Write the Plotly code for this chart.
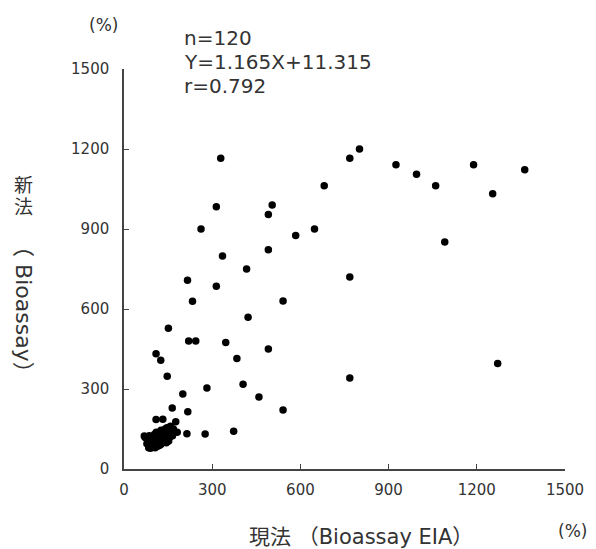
import plotly.graph_objects as go

# Discrete (clearly separated) points: current method (x) vs new method (y), in %
x_main = [925, 995, 1060, 1189, 1363, 1254, 1091, 1271, 329, 768, 801, 681, 314, 504,
          491, 262, 584, 648, 335, 491, 417, 314, 768, 541, 422, 220, 244, 346, 491, 384,
          282, 405, 459, 541, 768, 276, 373, 216, 233, 151, 109, 125, 147, 200, 164, 217,
          109, 132, 176, 181, 214, 69]
y_main = [1141, 1105, 1062, 1141, 1122, 1032, 851, 396, 1165, 1165, 1200, 1062, 983, 990,
          954, 900, 876, 900, 799, 822, 750, 685, 720, 630, 569, 480, 480, 474, 450, 414,
          304, 318, 270, 221, 341, 131, 142, 708, 629, 528, 432, 408, 348, 281, 229, 215,
          186, 187, 177, 138, 132, 124]

# Dense cluster near the origin (estimated)
x_cluster = [72, 78, 80, 84, 86, 88, 90, 92, 94, 95, 96, 98, 100, 100, 102, 104, 105, 106,
             108, 110, 110, 112, 114, 115, 116, 118, 120, 120, 122, 124, 125, 126, 128, 130,
             130, 132, 134, 135, 136, 138, 140, 140, 142, 144, 145, 146, 148, 150, 150, 152,
             155, 156, 158, 160, 162, 165, 168, 170, 90, 98, 104, 112, 118, 124, 128, 134,
             142, 150]
y_cluster = [118, 95, 108, 80, 125, 100, 78, 112, 88, 105, 82, 120, 95, 110, 84, 130, 100, 80,
             115, 92, 138, 105, 85, 122, 96, 110, 88, 132, 100, 118, 92, 145, 108, 98,
             125, 115, 140, 105, 130, 120, 150, 110, 135, 98, 125, 155, 115, 140, 130, 105,
             150, 120, 160, 135, 145, 125, 150, 140, 95, 100, 92, 118, 125, 105, 135, 120,
             145, 112]

x_vals = x_main + x_cluster
y_vals = y_main + y_cluster

tick_vals = [0, 300, 600, 900, 1200, 1500]
tick_text = ["0", "300", "600", "900", "1200", "1500"]

stats_lines = ["n=120", "Y=1.165X+11.315", "r=0.792"]

FONT = "DejaVu Sans, Noto Sans CJK JP, sans-serif"
TXT = "#333333"

# page offset of the figure (body margin of the html page)
OFF = 8
W, H = 596 - OFF, 549 - OFF
ML, MR, MT, MB = 124 - OFF, 27, 69 - OFF, 80

fig = go.Figure()
fig.add_trace(go.Scatter(
    x=x_vals, y=y_vals, mode="markers",
    marker=dict(color="black", size=7.5, line=dict(width=0)),
    cliponaxis=False, showlegend=False,
))

axis_common = dict(
    range=[0, 1500], tickvals=tick_vals, ticktext=tick_text,
    ticks="inside", ticklen=5, tickwidth=1.2, tickcolor="#444",
    showline=True, linecolor="#444", linewidth=1.5,
    showgrid=False, zeroline=False,
    tickfont=dict(family=FONT, size=15, color=TXT),
)

fig.update_layout(
    width=W, height=H,
    margin=dict(l=ML, r=MR, t=MT, b=MB),
    paper_bgcolor="white", plot_bgcolor="white",
    xaxis=dict(**axis_common, ticklabelstandoff=6),
    yaxis=dict(**axis_common, ticklabelstandoff=10),
)

# annotation positions given in page pixels, converted to paper coordinates
plot_left, plot_right, plot_top, plot_bottom = 124, 569, 69, 469
pw = plot_right - plot_left
ph = plot_bottom - plot_top


def px2paper(px, py):
    return (px - plot_left) / pw, (plot_bottom - py) / ph


annots = [
    dict(text="(%)", x=103, y=25, size=17, anchor="center", angle=0),
    dict(text=stats_lines[0], x=183, y=38, size=20, anchor="left", angle=0),
    dict(text=stats_lines[1], x=183, y=62, size=20, anchor="left", angle=0),
    dict(text=stats_lines[2], x=183, y=86, size=20, anchor="left", angle=0),
    dict(text="現法 （Bioassay EIA）", x=363, y=537, size=21, anchor="center", angle=0),
    dict(text="(%)", x=577, y=531, size=17, anchor="center", angle=0),
    dict(text="新", x=23, y=185, size=19, anchor="center", angle=0),
    dict(text="法", x=23, y=207, size=19, anchor="center", angle=0),
    dict(text="（ Bioassay）", x=23, y=310, size=22, anchor="center", angle=90),
]
for a in annots:
    ax, ay = px2paper(a["x"], a["y"])
    fig.add_annotation(
        text=a["text"], xref="paper", yref="paper", x=ax, y=ay,
        showarrow=False, textangle=a["angle"],
        xanchor=a["anchor"], yanchor="middle",
        font=dict(family=FONT, size=a["size"], color=TXT),
    )

fig.write_html("out.html")
